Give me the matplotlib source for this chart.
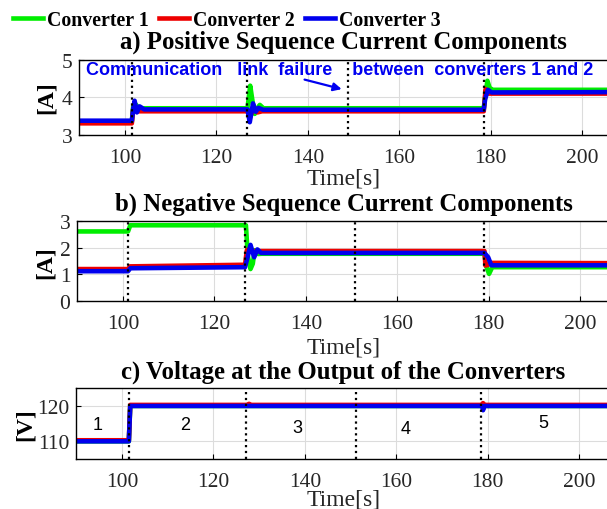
import matplotlib
matplotlib.use("Agg")
import matplotlib.pyplot as plt

# a) positive sequence current
t_pos_c1 = [90, 101.5, 101.8, 102.3, 103, 104, 126.8, 127.4, 127.9, 128.4, 129.0, 129.5, 130.3, 178.5, 178.9, 179.3, 179.8, 180.5, 207]
i_pos_c1 = [3.36, 3.36, 3.78, 3.82, 3.72, 3.71, 3.71, 4.31, 3.9, 3.56, 3.72, 3.8, 3.71, 3.71, 4.1, 4.44, 4.25, 4.2, 4.2]
t_pos_c2 = [90, 101.5, 101.8, 103, 126.8, 127.3, 128, 129, 130, 178.5, 178.9, 179.5, 207]
i_pos_c2 = [3.31, 3.31, 3.7, 3.63, 3.63, 3.45, 3.68, 3.6, 3.63, 3.63, 4.22, 4.1, 4.1]
t_pos_c3 = [90, 101.5, 101.8, 102.1, 102.6, 103.2, 104.2, 126.8, 127.3, 127.6, 128.0, 128.6, 129.2, 130.2, 178.5, 178.8, 179.4, 180.2, 207]
i_pos_c3 = [3.38, 3.38, 3.7, 3.91, 3.6, 3.76, 3.68, 3.68, 3.34, 3.55, 3.84, 3.62, 3.72, 3.67, 3.67, 3.95, 4.2, 4.13, 4.14]

# b) negative sequence current
t_neg_c1 = [90, 101.1, 101.6, 126.7, 126.9, 127.3, 127.9, 128.4, 128.8, 129.6, 130.3, 179.1, 179.5, 180.1, 180.8, 207]
i_neg_c1 = [2.6, 2.6, 2.83, 2.83, 2.83, 1.7, 1.2, 1.4, 1.9, 1.76, 1.77, 1.77, 1.3, 1.02, 1.27, 1.27]
t_neg_c2 = [90, 101.1, 101.5, 126.7, 127.1, 127.7, 128.6, 179.1, 179.3, 179.8, 180.4, 207]
i_neg_c2 = [1.2, 1.2, 1.3, 1.36, 1.9, 1.95, 1.87, 1.87, 1.33, 1.35, 1.43, 1.42]
t_neg_c3 = [90, 101.1, 101.6, 126.7, 127.2, 127.9, 128.7, 129.4, 130.2, 179.1, 179.9, 180.6, 207]
i_neg_c3 = [1.12, 1.12, 1.23, 1.27, 1.6, 2.1, 1.64, 1.93, 1.8, 1.8, 1.64, 1.34, 1.34]

# c) output voltage
t_v_c1 = [90, 101.5, 101.8, 207]
v_c1 = [110, 110, 120, 120]
t_v_c2 = [90, 101.5, 101.8, 127.3, 127.8, 128.3, 178.6, 179.0, 179.4, 207]
v_c2 = [110.3, 110.3, 120.3, 120.3, 120.6, 120.3, 120.3, 120.8, 120.3, 120.3]
t_v_c3 = [90, 101.5, 101.8, 178.8, 179.0, 179.3, 207]
v_c3 = [110, 110, 120, 120, 118.8, 120, 120]

events_a = [101.5, 126.6, 148.8, 178.5]
events_b = [101.1, 126.7, 150.7, 179.1]
events_c = [101.5, 127.2, 151.1, 178.6]

regions = ["1", "2", "3", "4", "5"]
region_t = [94.7, 113.8, 138.4, 162.1, 192.2]
region_v = [114.9, 114.9, 114.0, 113.5, 115.4]

names = ["Converter 1", "Converter 2", "Converter 3"]
colors = ["#00ee00", "#ee0000", "#0000ee"]

serif = "Liberation Serif"
sans = "Liberation Sans"

fig = plt.figure(figsize=(6.07, 5.10), dpi=100)
W, H = 607, 510
pxs = 4.57  # pixels per second on the time axis
right_px = 609


def make_ax(left_px, top_px, bot_px):
    ax = fig.add_axes([left_px / W, 1 - bot_px / H,
                       (right_px - left_px) / W, (bot_px - top_px) / H])
    ax.set_xlim(90, 90 + (right_px - left_px) / pxs)
    ax.set_xticks([100, 120, 140, 160, 180, 200])
    ax.grid(True, color="#dcdcdc", linewidth=0.8)
    ax.set_axisbelow(True)
    ax.tick_params(axis="both", direction="in", length=3.5, labelsize=15.5,
                   labelcolor="#262626")
    ax.tick_params(axis="x", pad=9.5)
    ax.tick_params(axis="y", pad=5.0)
    for s in ax.spines.values():
        s.set_linewidth(1.0)
    return ax


lw = 3.3
ax1 = make_ax(79.3, 60.7, 136)
l1, = ax1.plot(t_pos_c1, i_pos_c1, color=colors[0], lw=lw)
l2, = ax1.plot(t_pos_c2, i_pos_c2, color=colors[1], lw=lw)
l3, = ax1.plot(t_pos_c3, i_pos_c3, color=colors[2], lw=lw)
ax1.set_ylim(3, 5)
ax1.set_yticks([3, 4, 5])
for e in events_a:
    ax1.axvline(e, color="k", ls=":", lw=1.6)
ax1.text(91.4, 4.73, "Communication   link  failure    between  converters 1 and 2",
         color="#0000f0", fontsize=13, fontweight="bold", family=sans, va="center")
ax1.annotate("", xy=(148.0, 4.2), xytext=(138.7, 4.49),
             arrowprops=dict(arrowstyle="-|>", color="#0000f0", lw=1.6,
                             mutation_scale=12))

ax2 = make_ax(77.3, 221.7, 302.3)
ax2.plot(t_neg_c1, i_neg_c1, color=colors[0], lw=lw)
ax2.plot(t_neg_c2, i_neg_c2, color=colors[1], lw=lw)
ax2.plot(t_neg_c3, i_neg_c3, color=colors[2], lw=lw)
ax2.set_ylim(0, 3)
ax2.set_yticks([0, 1, 2, 3])
for e in events_b:
    ax2.axvline(e, color="k", ls=":", lw=1.6)

ax3 = make_ax(76.3, 389.3, 460)
ax3.plot(t_v_c1, v_c1, color=colors[0], lw=lw)
ax3.plot(t_v_c2, v_c2, color=colors[1], lw=lw)
ax3.plot(t_v_c3, v_c3, color=colors[2], lw=lw)
ax3.set_ylim(105, 125)
ax3.set_yticks([110, 120])
for e in events_c:
    ax3.axvline(e, color="k", ls=":", lw=1.6)
for r, tx, vy in zip(regions, region_t, region_v):
    ax3.text(tx, vy, r, fontsize=13, family=sans, ha="center", va="center")

for ax in (ax1, ax2, ax3):
    for lab in ax.get_xticklabels() + ax.get_yticklabels():
        lab.set_family(serif)

cx = 343.5 / W
titles = ["a) Positive Sequence Current Components",
          "b) Negative Sequence Current Components",
          "c) Voltage at the Output of the Converters"]
title_base = [49, 210.7, 378.3]
for ttl, ty in zip(titles, title_base):
    fig.text(cx, 1 - ty / H, ttl, ha="center", va="baseline", family=serif,
             fontweight="bold", fontsize=17.8)
for ty in [185, 353.3, 506]:
    fig.text(cx, 1 - ty / H, "Time[s]", ha="center", va="baseline", family=serif,
             fontsize=17, color="#262626")

fig.text(46.7 / W, 1 - 98 / H, "[A]", rotation=90, ha="center", va="center",
         family=serif, fontweight="bold", fontsize=17)
fig.text(45 / W, 1 - 263 / H, "[A]", rotation=90, ha="center", va="center",
         family=serif, fontweight="bold", fontsize=17)
fig.text(25 / W, 1 - 425 / H, "[V]", rotation=90, ha="center", va="center",
         family=serif, fontweight="bold", fontsize=17)

fig.legend([l1, l2, l3], names, loc="center left", bbox_to_anchor=(13 / W, 1 - 21 / H),
           ncol=3, frameon=False, handlelength=1.5, handletextpad=0.19,
           columnspacing=0.54, borderaxespad=0, borderpad=0,
           prop={"family": serif, "weight": "bold", "size": 14.3})

fig.savefig("out.png", dpi=100)
